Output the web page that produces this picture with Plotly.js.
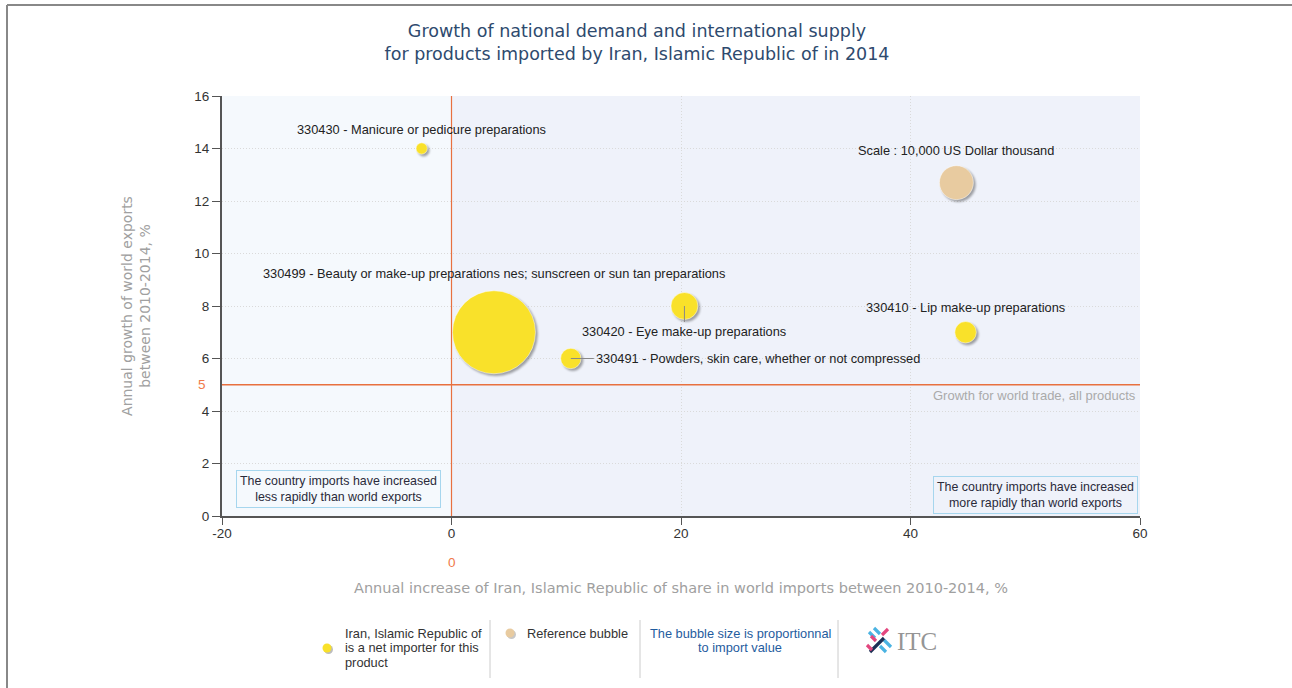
<!DOCTYPE html>
<html>
<head>
<meta charset="utf-8">
<script src="https://cdn.plot.ly/plotly-3.0.1.min.js"></script>
<style>
  html, body { margin: 0; padding: 0; background: #ffffff; }
  #chart { width: 1292px; height: 688px; }
  .scatterlayer path.point { filter: drop-shadow(2px 2px 1.2px rgba(0,0,0,0.35)); }
</style>
</head>
<body>
<div id="chart"></div>
<script>
// ---------------- DATA ----------------
const productCodes = ['330499', '330420', '330491', '330410', '330430'];
const productNames = [
  'Beauty or make-up preparations nes; sunscreen or sun tan preparations',
  'Eye make-up preparations',
  'Powders, skin care, whether or not compressed',
  'Lip make-up preparations',
  'Manicure or pedicure preparations'
];
const shareGrowth = [3.7, 20.3, 10.4, 44.8, -2.6];        // x: annual increase of Iran share in world imports, %
const worldExportGrowth = [7.0, 8.0, 6.0, 7.0, 14.0];     // y: annual growth of world exports, %
const importValue = [59600, 6300, 3600, 4000, 1100];      // bubble size, US Dollar thousand

const referenceX = [44.0];
const referenceY = [12.7];
const referenceValue = [10000];
const referenceLabel = 'Scale : 10,000 US Dollar thousand';

const worldTradeGrowth = 5;     // growth for world trade, all products
const xTickValues = [-20, 0, 20, 40, 60];
const yTickValues = [0, 2, 4, 6, 8, 10, 12, 14, 16];

const legendCountryLines = ['Iran, Islamic Republic of', 'is a net importer for this', 'product'];
const legendReference = 'Reference bubble';
const legendSizeLines = ['The bubble size is proportionnal', 'to import value'];

// ---------------- STYLE ----------------
const SIZEREF = 17.3;           // area mode
const yellow = '#f9e12a';
const beige = '#e8cba0';
const orange = '#e8703f';
const SANS = 'Liberation Sans, Arial, sans-serif';
const labelFont = { family: SANS, size: 12.8, color: '#222222' };
const labelMode = { '330420': 'below', '330491': 'right' };

// plot area is 222..1140 x 96..516 px
const PX = px => (px - 222) / 918;
const PY = py => (516 - py) / 420;

// rendered bubble diameter (px) for a value, as plotly draws it in area mode
const diam = v => 2 * Math.sqrt(v / 2 / SIZEREF);

const traces = [
  {
    type: 'scatter', mode: 'markers',
    x: shareGrowth, y: worldExportGrowth,
    text: productCodes,
    marker: {
      size: importValue, sizemode: 'area', sizeref: SIZEREF, sizemin: 3,
      color: yellow, opacity: 1,
      line: { width: 0.6, color: 'rgba(255,255,255,0.8)' }
    },
    hoverinfo: 'skip', showlegend: false
  },
  {
    type: 'scatter', mode: 'markers',
    x: referenceX, y: referenceY,
    marker: {
      size: referenceValue, sizemode: 'area', sizeref: SIZEREF,
      color: beige, opacity: 1,
      line: { width: 0.6, color: 'rgba(255,255,255,0.8)' }
    },
    hoverinfo: 'skip', showlegend: false
  }
];

const annotations = [];

// product labels
productCodes.forEach((code, i) => {
  const text = code + ' - ' + productNames[i];
  const mode = labelMode[code] || 'above';
  const r = diam(importValue[i]) / 2;
  if (mode === 'above') {
    annotations.push({ x: shareGrowth[i], y: worldExportGrowth[i], xref: 'x', yref: 'y',
      text: text, showarrow: false, yshift: r * 1.1 + 13, font: labelFont });
  } else if (mode === 'below') {
    annotations.push({ x: shareGrowth[i], y: worldExportGrowth[i], xref: 'x', yref: 'y',
      text: text, showarrow: true, ax: 0, ay: 25, arrowhead: 0, arrowwidth: 1,
      arrowcolor: '#888888', standoff: 0, font: labelFont });
  } else {
    annotations.push({ x: shareGrowth[i], y: worldExportGrowth[i], xref: 'x', yref: 'y',
      text: text, showarrow: true, ax: 23, ay: 0, xanchor: 'left', arrowhead: 0, arrowwidth: 1,
      arrowcolor: '#888888', standoff: 0, font: labelFont });
  }
});

// reference bubble label
annotations.push({ x: referenceX[0], y: referenceY[0], xref: 'x', yref: 'y',
  text: referenceLabel, showarrow: false, yshift: diam(referenceValue[0]) / 2 * 1.1 + 13, font: labelFont });

// world trade growth line label
annotations.push({ x: 60, y: worldTradeGrowth, xref: 'x', yref: 'y', xanchor: 'right', yanchor: 'top',
  xshift: -2, yshift: -1, text: 'Growth for world trade, all products', showarrow: false,
  font: { family: SANS, size: 13, color: '#aaaaaa' } });

// orange reference values
annotations.push({ x: 0, xref: 'paper', y: worldTradeGrowth, yref: 'y', xanchor: 'right',
  xshift: -14, text: String(worldTradeGrowth), showarrow: false,
  font: { family: SANS, size: 13.5, color: '#f07a4a' } });
annotations.push({ x: 0, xref: 'x', y: 0, yref: 'paper', yanchor: 'middle',
  yshift: -46, text: '0', showarrow: false,
  font: { family: SANS, size: 13.5, color: '#f07a4a' } });

// quadrant boxes
const boxFont = { family: SANS, size: 12.4, color: '#2a2a3a' };
annotations.push({ xref: 'paper', yref: 'paper', x: PX(236), y: PY(508), xanchor: 'left', yanchor: 'bottom',
  text: 'The country imports have increased<br>less rapidly than world exports', showarrow: false,
  font: boxFont, bordercolor: '#a6d6ee', borderwidth: 1, borderpad: 3, align: 'center' });
annotations.push({ xref: 'paper', yref: 'paper', x: PX(1138), y: PY(514), xanchor: 'right', yanchor: 'bottom',
  text: 'The country imports have increased<br>more rapidly than world exports', showarrow: false,
  font: boxFont, bordercolor: '#a6d6ee', borderwidth: 1, borderpad: 3, align: 'center' });

// legend texts (one annotation per line to match the tight line spacing)
const legFont = { family: SANS, size: 12.8, color: '#333333' };
const LEG_LINE = 14.5;
legendCountryLines.forEach((t, k) => annotations.push({ xref: 'paper', yref: 'paper',
  x: PX(343), y: PY(633 + k * LEG_LINE), xanchor: 'left', yanchor: 'middle',
  text: t, showarrow: false, font: legFont }));
annotations.push({ xref: 'paper', yref: 'paper', x: PX(525), y: PY(633), xanchor: 'left', yanchor: 'middle',
  text: legendReference, showarrow: false, font: legFont });
legendSizeLines.forEach((t, k) => annotations.push({ xref: 'paper', yref: 'paper',
  x: PX(740), y: PY(633 + k * LEG_LINE), xanchor: 'center', yanchor: 'middle',
  text: t, showarrow: false, font: { family: SANS, size: 12.8, color: '#1f5c9e' } }));
annotations.push({ xref: 'paper', yref: 'paper', x: PX(895), y: PY(641), xanchor: 'left', yanchor: 'middle',
  text: 'ITC', showarrow: false,
  font: { family: 'Liberation Serif, DejaVu Serif, serif', size: 25, color: '#959595' } });

// ---------------- SHAPES ----------------
const shapes = [
  // quadrant backgrounds
  { type: 'rect', xref: 'x', yref: 'paper', x0: -20, x1: 0, y0: 0, y1: 1,
    fillcolor: '#f5f9fd', line: { width: 0 }, layer: 'below' },
  { type: 'rect', xref: 'x', yref: 'paper', x0: 0, x1: 60, y0: 0, y1: 1,
    fillcolor: '#eff2fa', line: { width: 0 }, layer: 'below' },
  // reference lines
  { type: 'line', xref: 'x', yref: 'paper', x0: 0, x1: 0, y0: 0, y1: 1,
    line: { color: orange, width: 1.2 }, layer: 'above' },
  { type: 'line', xref: 'paper', yref: 'y', x0: 0, x1: 1, y0: worldTradeGrowth, y1: worldTradeGrowth,
    line: { color: orange, width: 1.3 }, layer: 'above' },
  // outer frame
  { type: 'line', xref: 'paper', yref: 'paper', x0: PX(7), x1: PX(1300), y0: PY(5), y1: PY(5),
    line: { color: '#888888', width: 2 } },
  { type: 'line', xref: 'paper', yref: 'paper', x0: PX(7), x1: PX(7), y0: PY(5), y1: PY(700),
    line: { color: '#888888', width: 2 } },
  // legend separators
  ...[490, 640, 838].map(px => ({ type: 'line', xref: 'paper', yref: 'paper',
    x0: PX(px), x1: PX(px), y0: PY(620), y1: PY(678), line: { color: '#cccccc', width: 1 } })),
  // legend symbols (shadow + dot)
  { type: 'circle', xref: 'paper', yref: 'paper', x0: PX(324), x1: PX(333), y0: PY(645), y1: PY(654),
    fillcolor: '#bdbdbd', line: { width: 0 } },
  { type: 'circle', xref: 'paper', yref: 'paper', x0: PX(322.5), x1: PX(331.5), y0: PY(643.5), y1: PY(652.5),
    fillcolor: yellow, line: { width: 0 } },
  { type: 'circle', xref: 'paper', yref: 'paper', x0: PX(507), x1: PX(516), y0: PY(630), y1: PY(639),
    fillcolor: '#c8c8c8', line: { width: 0 } },
  { type: 'circle', xref: 'paper', yref: 'paper', x0: PX(505.5), x1: PX(514.5), y0: PY(628.5), y1: PY(637.5),
    fillcolor: beige, line: { width: 0 } },
  // ITC logo mark
  ...[
    [869, 632, 875, 638, '#4ab3e2'], [874, 628, 880, 634, '#4ab3e2'],
    [888, 629, 882, 635, '#e3467e'], [884, 640, 891, 647, '#4ab3e2'],
    [880, 646, 886, 652, '#4ab3e2'], [870, 652, 884, 638, '#1d2f55'],
    [867, 645, 872, 650, '#e3467e'], [876, 641, 871, 636, '#e3467e']
  ].map(s => ({ type: 'line', xref: 'paper', yref: 'paper', x0: PX(s[0]), y0: PY(s[1]),
    x1: PX(s[2]), y1: PY(s[3]), line: { color: s[4], width: 3.2 } }))
];

const axisFont = { family: SANS, size: 13.5, color: '#333333' };
const xTitleFont = { family: 'DejaVu Sans, Verdana, sans-serif', size: 14.5, color: '#a0a0a0' };
const yTitleFont = { family: 'DejaVu Sans, Verdana, sans-serif', size: 14, color: '#a0a0a0' };

const layout = {
  width: 1292, height: 688,
  margin: { l: 222, r: 152, t: 96, b: 172 },
  paper_bgcolor: '#ffffff', plot_bgcolor: '#ffffff',
  showlegend: false,
  title: {
    text: 'Growth of national demand and international supply<br>for products imported by Iran, Islamic Republic of in 2014',
    x: 637 / 1292, xanchor: 'center', xref: 'container',
    y: 1 - 37 / 688, yanchor: 'middle', yref: 'container',
    font: { family: 'DejaVu Sans, Verdana, sans-serif', size: 17.5, color: '#2e4a6e' }
  },
  xaxis: {
    range: [-20, 60], tickvals: xTickValues, ticktext: xTickValues.map(String),
    showline: true, linecolor: '#555555', linewidth: 2,
    ticks: 'outside', ticklen: 7, tickcolor: '#555555', tickwidth: 1, ticklabelstandoff: -3,
    showgrid: true, gridcolor: '#dadada', griddash: '1px,2px', gridwidth: 1,
    zeroline: false, tickfont: axisFont, fixedrange: true,
    title: { text: 'Annual increase of Iran, Islamic Republic of share in world imports between 2010-2014, %',
      font: xTitleFont, standoff: 43 }
  },
  yaxis: {
    range: [0, 16], tickvals: yTickValues, ticktext: yTickValues.map(String),
    showline: true, linecolor: '#555555', linewidth: 2,
    ticks: 'outside', ticklen: 8, tickcolor: '#555555', tickwidth: 1,
    showgrid: true, gridcolor: '#dadada', griddash: '1px,2px', gridwidth: 1,
    zeroline: false, tickfont: axisFont, fixedrange: true,
    title: { text: 'Annual growth of world exports<br>between 2010-2014, %', font: yTitleFont, standoff: 40 }
  },
  annotations: annotations,
  shapes: shapes
};

Plotly.newPlot('chart', traces, layout, { staticPlot: true, displayModeBar: false });
</script>
</body>
</html>
